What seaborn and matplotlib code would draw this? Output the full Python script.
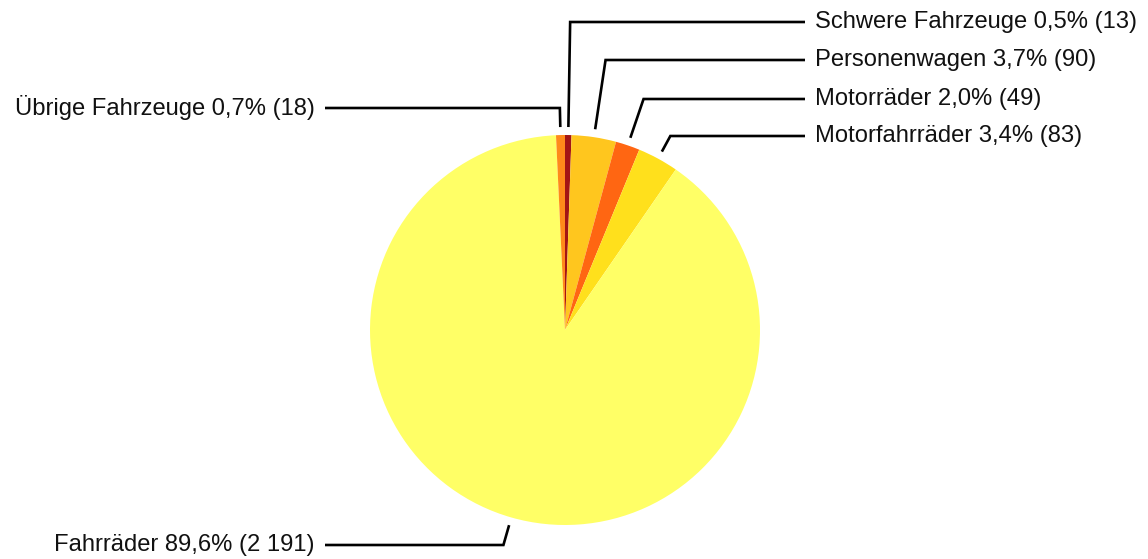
import numpy as np
import matplotlib.pyplot as plt
import seaborn as sns

# Daten (im Uhrzeigersinn ab 12 Uhr)
kategorien = ['Schwere Fahrzeuge', 'Personenwagen', 'Motorräder',
              'Motorfahrräder', 'Fahrräder', 'Übrige Fahrzeuge']
anzahl = [13, 90, 49, 83, 2191, 18]
farben = ['#A31515', '#FFC61E', '#FF6612', '#FFE01C', '#FFFF66', '#FF8A1A']

# Layout in Pixeln
W, H = 1148, 559
cx, cy, r = 565, 330, 195
label_y = [22, 60, 99, 136, 545, 108]
rechts = [True, True, True, True, False, False]

sns.set_theme(style='white')
plt.rcParams['font.family'] = ['Liberation Sans', 'DejaVu Sans']

fig = plt.figure(figsize=(W / 100, H / 100), dpi=100)
ax = fig.add_axes([0, 0, 1, 1])
ax.set_xlim(0, W)
ax.set_ylim(0, H)
ax.set_aspect('equal')
ax.axis('off')

wedges, _ = ax.pie(anzahl, colors=farben, startangle=90, counterclock=False,
                   center=(cx, H - cy), radius=r,
                   wedgeprops=dict(linewidth=0))
ax.set_xlim(0, W)
ax.set_ylim(0, H)

total = sum(anzahl)
for w, name, n, ly, re in zip(wedges, kategorien, anzahl, label_y, rechts):
    mid = np.deg2rad((w.theta1 + w.theta2) / 2)
    dx, dy = np.cos(mid), np.sin(mid)
    x0 = cx + (r + 8) * dx
    y0 = (H - cy) + (r + 8) * dy
    yl = H - ly
    t = (yl - y0) / dy
    x1 = x0 + t * dx
    x2 = 805 if re else 325
    ax.plot([x0, x1, x2], [y0, yl, yl], color='black', lw=1.9,
            solid_capstyle='butt', solid_joinstyle='miter')
    pct = f'{100 * n / total:.1f}'.replace('.', ',')
    zahl = f'{n:,}'.replace(',', ' ')
    text = f'{name} {pct}% ({zahl})'
    ax.text(x2 + 10 if re else x2 - 10, yl, text, fontsize=17.1,
            ha='left' if re else 'right', va='center', color='#111111')

plt.savefig('out.png', dpi=100)
